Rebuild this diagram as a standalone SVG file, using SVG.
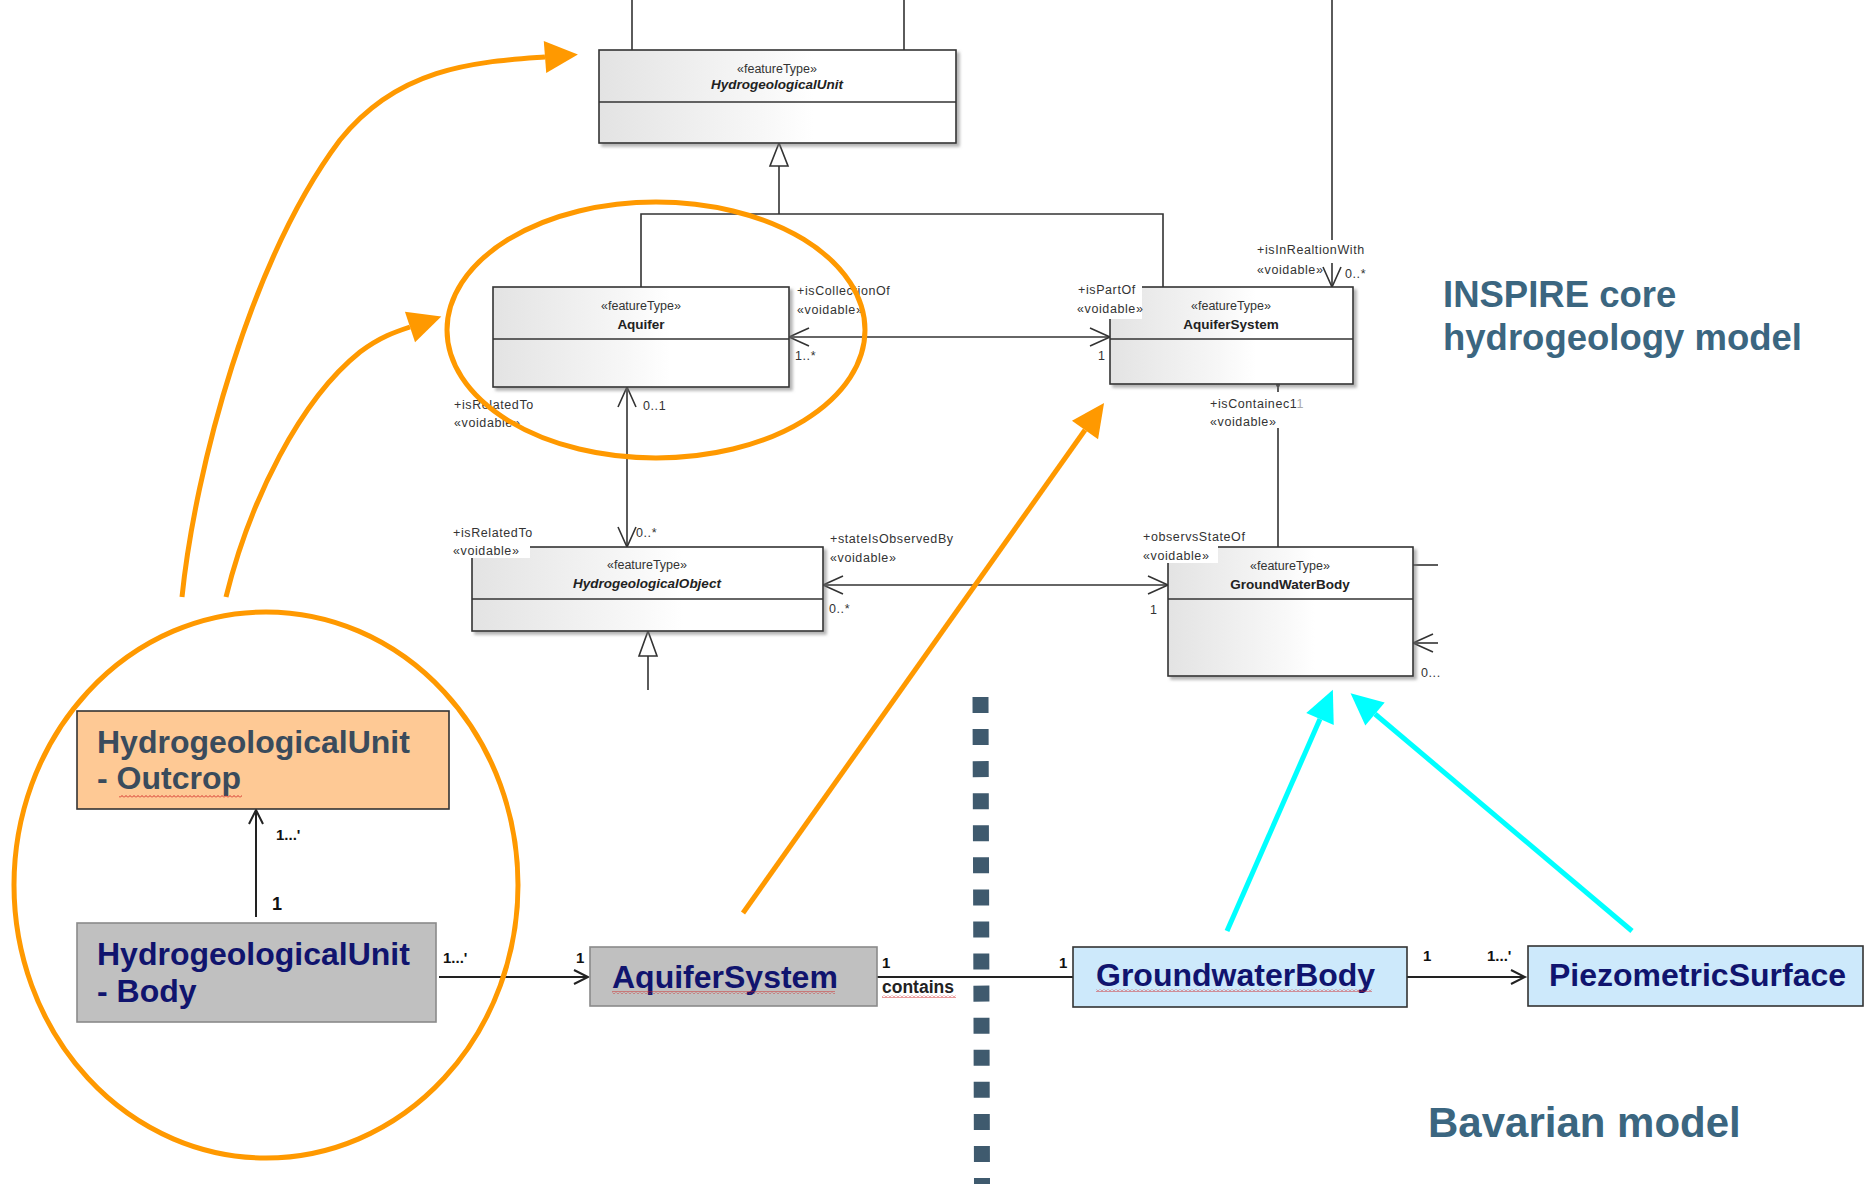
<svg xmlns="http://www.w3.org/2000/svg" width="1865" height="1184" viewBox="0 0 1865 1184">
  <style>
    .uml { fill: url(#umlFill); stroke: #333; stroke-width: 1.6; }
    .div { stroke: #333; stroke-width: 1.6; }
    .ln { stroke: #333; stroke-width: 1.6; fill: none; }
    .gen { fill: #fff; stroke: #333; stroke-width: 1.6; }
    .st { font-family: "Liberation Sans", Arial, sans-serif; font-size: 12.5px; fill: #333; text-anchor: middle; }
    .nm { font-family: "Liberation Sans", Arial, sans-serif; font-size: 13.5px; font-weight: bold; fill: #222; text-anchor: middle; }
    .it { font-style: italic; }
    .lbl { font-family: "Liberation Sans", Arial, sans-serif; font-size: 12.5px; fill: #333; letter-spacing: 0.6px; }
    .bg { fill: #fff; }
    .bt { font-family: "Liberation Sans", Arial, sans-serif; font-size: 32px; font-weight: bold; }
    .mult { font-family: "Liberation Sans", Arial, sans-serif; font-size: 15px; font-weight: bold; fill: #111; }
    .bl { stroke: #222; stroke-width: 2; fill: none; }
    .orange { stroke: #ff9900; stroke-width: 5; fill: none; }
    .cyan { stroke: #00ffff; stroke-width: 5; fill: none; }
    .head { font-family: "Liberation Sans", Arial, sans-serif; font-weight: bold; fill: #3b6680; }
    .squig { fill: url(#wave); }
  </style>
  <defs>
    <linearGradient id="umlFill" x1="0" y1="0" x2="1" y2="0">
      <stop offset="0" stop-color="#e3e3e3"/>
      <stop offset="0.45" stop-color="#f7f7f7"/>
      <stop offset="0.6" stop-color="#ffffff"/>
    </linearGradient>
    <filter id="shadow" x="-5%" y="-5%" width="115%" height="130%">
      <feDropShadow dx="3" dy="3" stdDeviation="1.5" flood-color="#777" flood-opacity="0.55"/>
    </filter>
    <pattern id="wave" width="4" height="3" patternUnits="userSpaceOnUse">
      <path d="M0,2.5 L2,0.5 L4,2.5" fill="none" stroke="#d02020" stroke-width="0.9"/>
    </pattern>
    <marker id="umlOpen" markerUnits="userSpaceOnUse" orient="auto-start-reverse" overflow="visible" refX="0" refY="0" markerWidth="1" markerHeight="1">
      <path d="M-20,-9 L0,0 L-20,9" fill="none" stroke="#333" stroke-width="1.6"/>
    </marker>
    <marker id="bavOpen" markerUnits="userSpaceOnUse" orient="auto" overflow="visible" refX="0" refY="0" markerWidth="1" markerHeight="1">
      <path d="M-14,-7 L0,0 L-14,7" fill="none" stroke="#222" stroke-width="2"/>
    </marker>
    <marker id="orangeHead" markerUnits="userSpaceOnUse" orient="auto" overflow="visible" refX="0" refY="0" markerWidth="1" markerHeight="1">
      <path d="M0,-16 L33,0 L0,16 z" fill="#ff9900"/>
    </marker>
    <marker id="cyanHead" markerUnits="userSpaceOnUse" orient="auto" overflow="visible" refX="0" refY="0" markerWidth="1" markerHeight="1">
      <path d="M0,-15 L32,0 L0,15 z" fill="#00ffff"/>
    </marker>
  </defs>

  <rect width="1865" height="1184" fill="#fff"/>

  <!-- UML connectors of the core model -->
  <g id="uml-connectors">
    <line class="ln" x1="632" y1="0" x2="632" y2="50"/>
    <line class="ln" x1="904" y1="0" x2="904" y2="50"/>
    <!-- generalization to HydrogeologicalUnit -->
    <polyline class="ln" points="641,287 641,214 1163,214 1163,287"/>
    <line class="ln" x1="779" y1="214" x2="779" y2="166"/>
    <polygon class="gen" points="779,143 770,166 788,166"/>
    <!-- Aquifer <-> AquiferSystem -->
    <line class="ln" x1="789" y1="337" x2="1110" y2="337" marker-start="url(#umlOpen)" marker-end="url(#umlOpen)"/>
    <!-- isInRealtionWith -->
    <line class="ln" x1="1332" y1="0" x2="1332" y2="287" marker-end="url(#umlOpen)"/>
    <!-- AquiferSystem - GroundWaterBody -->
    <line class="ln" x1="1278" y1="384" x2="1278" y2="547"/>
    <circle cx="1278" cy="385" r="2" fill="#333"/>
    <!-- Aquifer <-> HydrogeologicalObject -->
    <line class="ln" x1="627" y1="387" x2="627" y2="547" marker-start="url(#umlOpen)" marker-end="url(#umlOpen)"/>
    <!-- HydrogeologicalObject <-> GroundWaterBody -->
    <line class="ln" x1="823" y1="585" x2="1168" y2="585" marker-start="url(#umlOpen)" marker-end="url(#umlOpen)"/>
    <!-- generalization below HydrogeologicalObject -->
    <line class="ln" x1="648" y1="656" x2="648" y2="690"/>
    <polygon class="gen" points="648,631 639,656 657,656"/>
    <!-- links leaving GroundWaterBody to the right -->
    <line class="ln" x1="1413" y1="565" x2="1438" y2="565"/>
    <line class="ln" x1="1438" y1="643" x2="1413" y2="643" marker-end="url(#umlOpen)"/>
  </g>

  <!-- UML classes -->
  <g id="uml-hydrogeologicalunit">
    <rect class="uml" x="599" y="50" width="357" height="93" filter="url(#shadow)"/>
    <line class="div" x1="599" y1="102" x2="956" y2="102"/>
    <text class="st" x="777" y="73">«featureType»</text>
    <text class="nm it" x="777" y="89">HydrogeologicalUnit</text>
  </g>
  <g id="uml-aquifer">
    <rect class="uml" x="493" y="287" width="296" height="100" filter="url(#shadow)"/>
    <line class="div" x1="493" y1="339" x2="789" y2="339"/>
    <text class="st" x="641" y="310">«featureType»</text>
    <text class="nm" x="641" y="329">Aquifer</text>
  </g>
  <g id="uml-aquifersystem">
    <rect class="uml" x="1110" y="287" width="243" height="97" filter="url(#shadow)"/>
    <line class="div" x1="1110" y1="339" x2="1353" y2="339"/>
    <text class="st" x="1231" y="310">«featureType»</text>
    <text class="nm" x="1231" y="329">AquiferSystem</text>
  </g>
  <g id="uml-hydrogeologicalobject">
    <rect class="uml" x="472" y="547" width="351" height="84" filter="url(#shadow)"/>
    <line class="div" x1="472" y1="599" x2="823" y2="599"/>
    <text class="st" x="647" y="569">«featureType»</text>
    <text class="nm it" x="647" y="588">HydrogeologicalObject</text>
  </g>
  <g id="uml-groundwaterbody">
    <rect class="uml" x="1168" y="547" width="245" height="129" filter="url(#shadow)"/>
    <line class="div" x1="1168" y1="599" x2="1413" y2="599"/>
    <text class="st" x="1290" y="570">«featureType»</text>
    <text class="nm" x="1290" y="589">GroundWaterBody</text>
  </g>

  <!-- role names and multiplicities -->
  <g id="uml-labels">
    <rect class="bg" x="1074" y="279" width="68" height="40"/>
    <rect class="bg" x="450" y="522" width="80" height="36"/>
    <rect class="bg" x="1140" y="527" width="78" height="36"/>
    <rect class="bg" x="1208" y="392" width="92" height="36"/>
    <rect class="bg" x="1255" y="240" width="132" height="23"/>

    <text class="lbl" x="797" y="295">+isCollectionOf</text>
    <text class="lbl" x="797" y="314">«voidable»</text>
    <text class="lbl" x="795" y="360">1..*</text>

    <text class="lbl" x="1078" y="294">+isPartOf</text>
    <text class="lbl" x="1077" y="313">«voidable»</text>
    <text class="lbl" x="1098" y="360">1</text>

    <text class="lbl" x="1257" y="254">+isInRealtionWith</text>
    <text class="lbl" x="1257" y="274">«voidable»</text>
    <text class="lbl" x="1345" y="278">0..*</text>

    <text class="lbl" x="1210" y="408">+isContainec1<tspan fill="#aaa">1</tspan></text>
    <text class="lbl" x="1210" y="426">«voidable»</text>

    <text class="lbl" x="454" y="409">+isRelatedTo</text>
    <text class="lbl" x="454" y="427">«voidable»</text>
    <text class="lbl" x="643" y="410">0..1</text>

    <text class="lbl" x="453" y="537">+isRelatedTo</text>
    <text class="lbl" x="453" y="555">«voidable»</text>
    <text class="lbl" x="636" y="537">0..*</text>

    <text class="lbl" x="830" y="543">+stateIsObservedBy</text>
    <text class="lbl" x="830" y="562">«voidable»</text>
    <text class="lbl" x="829" y="613">0..*</text>

    <text class="lbl" x="1143" y="541">+observsStateOf</text>
    <text class="lbl" x="1143" y="560">«voidable»</text>
    <text class="lbl" x="1150" y="614">1</text>

    <text class="lbl" x="1421" y="677">0...</text>
  </g>

  <!-- Bavarian model connectors -->
  <g id="bavarian-connectors">
    <line class="bl" x1="256" y1="917" x2="256" y2="810" marker-end="url(#bavOpen)"/>
    <text class="mult" x="276" y="840">1...'</text>
    <text class="mult" x="272" y="910" style="font-size:18px">1</text>

    <line class="bl" x1="439" y1="977" x2="588" y2="977" marker-end="url(#bavOpen)"/>
    <text class="mult" x="443" y="963">1...'</text>
    <text class="mult" x="576" y="963">1</text>

    <line class="bl" x1="877" y1="977" x2="1073" y2="977"/>
    <text class="mult" x="882" y="968">1</text>
    <text x="882" y="993" style="font-family:'Liberation Sans',Arial,sans-serif;font-size:17.5px;font-weight:bold;fill:#222">contains</text>
    <rect class="squig" x="882" y="995" width="74" height="3"/>
    <text class="mult" x="1059" y="968">1</text>

    <line class="bl" x1="1407" y1="977" x2="1525" y2="977" marker-end="url(#bavOpen)"/>
    <text class="mult" x="1423" y="961">1</text>
    <text class="mult" x="1487" y="961">1...'</text>
  </g>

  <!-- Bavarian model classes -->
  <g id="bav-outcrop">
    <rect x="77" y="711" width="372" height="98" fill="#fec995" stroke="#333" stroke-width="1.6"/>
    <text class="bt" x="97" y="753" fill="#3a4b5c">HydrogeologicalUnit</text>
    <text class="bt" x="97" y="789" fill="#3a4b5c">- Outcrop</text>
    <rect class="squig" x="119" y="795" width="123" height="3"/>
  </g>
  <g id="bav-body">
    <rect x="77" y="923" width="359" height="99" fill="#c0c0c0" stroke="#8a8a8a" stroke-width="1.6"/>
    <text class="bt" x="97" y="965" fill="#10146e">HydrogeologicalUnit</text>
    <text class="bt" x="97" y="1002" fill="#10146e">- Body</text>
  </g>
  <g id="bav-aquifersystem">
    <rect x="590" y="947" width="287" height="59" fill="#c0c0c0" stroke="#8a8a8a" stroke-width="1.6"/>
    <text class="bt" x="612" y="988" fill="#10146e">AquiferSystem</text>
    <rect class="squig" x="612" y="991" width="223" height="3"/>
  </g>
  <g id="bav-groundwaterbody">
    <rect x="1073" y="947" width="334" height="60" fill="#cde9fb" stroke="#333" stroke-width="1.6"/>
    <text class="bt" x="1096" y="986" fill="#10146e">GroundwaterBody</text>
    <rect class="squig" x="1096" y="989" width="276" height="3"/>
  </g>
  <g id="bav-piezometricsurface">
    <rect x="1528" y="946" width="335" height="60" fill="#cde9fb" stroke="#333" stroke-width="1.6"/>
    <text class="bt" x="1549" y="986" fill="#10146e">PiezometricSurface</text>
  </g>

  <!-- divider between the two models -->
  <line x1="980.5" y1="697" x2="982" y2="1184" stroke="#3f5a6e" stroke-width="16" stroke-dasharray="16 16.07"/>

  <!-- highlight overlays -->
  <g id="highlights">
    <ellipse class="orange" cx="656" cy="330" rx="209" ry="128"/>
    <ellipse class="orange" cx="266" cy="885" rx="252" ry="273"/>
    <path class="orange" d="M182,597 C195,470 250,260 340,140 C400,65 480,62 545,57" marker-end="url(#orangeHead)"/>
    <path class="orange" d="M226,597 C250,500 300,400 360,352 C380,337 395,332 410,327" marker-end="url(#orangeHead)"/>
    <line class="orange" x1="743" y1="913" x2="1085" y2="430" marker-end="url(#orangeHead)"/>
    <line class="cyan" x1="1227" y1="931" x2="1320" y2="719" marker-end="url(#cyanHead)"/>
    <line class="cyan" x1="1632" y1="931" x2="1375" y2="714" marker-end="url(#cyanHead)"/>
  </g>

  <!-- model captions -->
  <g id="captions">
    <text class="head" x="1443" y="307" style="font-size:36.5px">INSPIRE core</text>
    <text class="head" x="1443" y="350" style="font-size:36.5px">hydrogeology model</text>
    <text class="head" x="1428" y="1137" style="font-size:42px">Bavarian model</text>
  </g>
</svg>
